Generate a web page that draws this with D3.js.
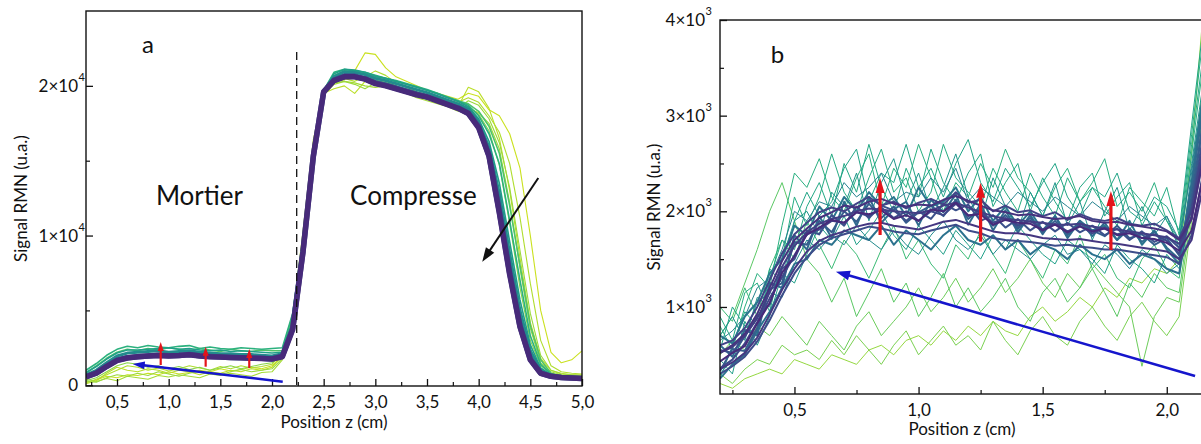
<!DOCTYPE html>
<html><head><meta charset="utf-8">
<script src="https://cdn.jsdelivr.net/npm/d3@7"></script>
<style>
body{margin:0;background:#fff;}
svg{display:block;font-family:Lato,"Open Sans",sans-serif;}
</style></head><body>
<svg id="chart" width="1201" height="444"></svg>
<script>
// ---------- Panel a data (position z in cm, NMR signal) ----------
const zA = [0.2,0.3,0.4,0.5,0.6,0.7,0.8,0.9,1.0,1.1,1.2,1.3,1.4,1.5,1.6,1.7,1.8,1.9,2.0,2.1,2.2,2.3,2.4,2.5,2.6,2.7,2.8,2.9,3.0,3.1,3.2,3.3,3.4,3.5,3.6,3.7,3.8,3.9,4.0,4.1,4.2,4.3,4.4,4.5,4.6,4.7,4.8,4.9,5.0];
const aTimes = [0,0.03,0.05,0.07,0.09,0.12,0.25,0.35,0.45,0.55,0.7,0.85,1.0];
const aLime1 = [200,350,600,500,700,650,800,700,900,750,850,1000,900,1100,950,1050,1200,1100,1300,1900,4200,9800,16000,19700,20300,20400,21000,22200,22100,21200,20600,20300,20000,19700,19500,19300,19100,19500,19300,18400,18000,16800,14500,10000,5000,2200,1500,1700,2300];
const aLime2 = [100,300,800,1200,1000,900,1100,1000,800,1000,900,700,900,800,1000,900,1100,1000,1200,2000,4500,10300,16400,19500,19800,20000,19500,20300,20500,20300,20000,19600,19300,19100,18900,18700,18600,19900,19600,18500,16500,13000,8500,4200,1800,1000,800,700,700];
const aLime5 = [150,400,700,1000,1300,1200,1000,1150,950,1100,1300,1150,1000,1250,1100,1300,1150,1250,1400,2200,4400,10000,16100,19500,20200,20500,20300,20600,21000,20700,20200,19900,19600,19400,19200,19000,18900,19200,18900,18000,16900,14800,11200,6800,3000,1300,900,800,750];
const aLime3 = [400,250,450,300,600,500,400,650,550,700,600,500,750,650,800,700,600,850,900,1700,4000,9500,15800,19400,20100,20300,20200,20000,19900,20000,19700,19500,19200,19000,18800,18600,18300,18500,18200,17500,15800,12200,7800,3800,1500,900,700,650,600];
const aLime6 = [250,200,500,700,600,800,650,900,750,600,800,950,800,700,900,1050,900,1000,1100,1800,4100,9700,15900,19500,20200,20300,20100,19800,20200,20400,19900,19600,19300,19100,18900,18700,18500,19000,18700,17800,16200,13200,9000,4800,2000,1000,750,700,650];
const aLime4 = [300,500,900,1300,1500,1400,1200,1300,1100,1250,1050,1200,1000,1150,1300,1100,1250,1400,1500,2100,4600,9900,15900,19400,20300,20500,20700,20500,20400,20200,20000,19700,19500,19300,19100,18900,18700,18600,18100,17000,14700,10800,6500,3000,1300,800,650,600,600];
const aGreen1 = [800,1300,1800,2200,2400,2300,2450,2350,2500,2400,2300,2450,2350,2250,2400,2300,2250,2350,2300,2300,4700,9800,15700,19600,20700,21000,20900,20800,20600,20500,20300,20100,19900,19700,19500,19200,19000,18800,18300,17300,15500,12000,8000,4000,1700,800,600,550,500];
const aGreen2 = [1000,1450,2000,2400,2600,2500,2650,2550,2500,2600,2650,2450,2550,2450,2400,2500,2450,2400,2450,2500,4800,9600,15500,19700,20900,21100,21000,20900,20700,20500,20350,20150,19950,19750,19500,19250,19000,18700,18000,16800,14800,11000,7000,3300,1400,750,550,500,500];
const aTeal1 = [850,1250,1750,2150,2350,2350,2400,2450,2500,2400,2450,2350,2300,2350,2250,2300,2250,2200,2150,2200,4300,9300,15400,19700,20800,21100,21050,20900,20650,20500,20300,20100,19900,19700,19450,19200,18950,18600,17800,16300,13500,9600,5700,2700,1150,700,550,500,480];
const aTeal2 = [700,1000,1500,1950,2150,2200,2250,2300,2200,2250,2300,2200,2150,2100,2100,2050,2050,2000,1950,2100,4000,9100,15300,19600,20600,20950,20900,20750,20500,20350,20150,19950,19750,19550,19300,19050,18800,18450,17600,15900,12800,8800,5000,2300,1000,650,520,480,460];
const aBlue1 = [650,900,1350,1750,1900,1950,2000,2050,2000,2050,2100,2000,1950,1900,1900,1850,1850,1800,1780,2000,3900,9000,15300,19600,20450,20750,20750,20550,20300,20150,19950,19750,19550,19350,19100,18850,18600,18250,17400,15600,12100,8000,4300,1900,870,620,520,480,460];
const aPurple1 = [580,820,1280,1680,1840,1910,1960,2000,1970,1990,2050,1970,1920,1880,1860,1840,1820,1800,1760,1950,3800,8950,15300,19600,20380,20620,20620,20470,20180,20030,19830,19630,19430,19270,19020,18770,18520,18170,17250,15350,11600,7500,3950,1720,810,600,520,480,450];
const aPurple2 = [550,800,1250,1650,1820,1900,1960,1990,1960,1980,2040,1960,1900,1880,1850,1830,1810,1790,1750,1900,3700,8900,15300,19600,20350,20600,20600,20450,20150,20000,19800,19600,19400,19250,19000,18750,18500,18150,17200,15300,11500,7400,3900,1700,800,600,520,480,450];
const aSeries = [aLime1,aLime2,aLime5,aLime3,aLime6,aLime4,aGreen1,aGreen2,aTeal1,aTeal2,aBlue1,aPurple1,aPurple2];

// ---------- Panel b data (zoom on the mortar) ----------
const zB = [0.20,0.25,0.30,0.35,0.40,0.45,0.50,0.55,0.60,0.65,0.70,0.75,0.80,0.85,0.90,0.95,1.00,1.05,1.10,1.15,1.20,1.25,1.30,1.35,1.40,1.45,1.50,1.55,1.60,1.65,1.70,1.75,1.80,1.85,1.90,1.95,2.00,2.05,2.10,2.15,2.20];
const bTimes = [0.10,0.15,0.18,0.22,0.30,0.36,0.38,0.40,0.42,0.45,0.50,0.55,0.60,0.66,0.68,0.72,0.78,0.84,0.86,0.88,0.90,0.92,0.95,0.97,1.0];
const bG5 = [200,150,250,300,350,300,450,400,350,500,450,400,550,600,500,650,700,600,750,650,800,700,850,750,700,900,1000,850,950,1100,1000,1200,1100,1300,1250,1400,1350,1500,2600,4200,5500];
const bG3 = [300,200,350,450,400,600,500,550,450,650,500,700,550,400,600,750,500,650,800,600,700,550,850,650,500,750,900,700,600,850,1000,800,650,900,1050,850,700,900,1900,3200,4600];
const bG4 = [500,650,550,800,700,900,750,600,850,700,550,800,950,700,850,1000,1200,950,1100,1300,1050,1200,1400,1150,1300,1500,1250,1100,1350,1200,1450,1300,1150,1000,380,900,1100,1050,2000,3500,5000];
const bG2 = [700,900,1250,1600,2000,2300,1900,1500,1350,1050,1300,900,1150,1400,1050,1250,900,1100,1350,1000,1200,950,1100,1300,1000,850,1150,1300,1050,1200,1400,1150,900,1250,1100,1350,1200,1150,2100,3400,4800];
const bG1 = [1000,850,1200,900,1400,1700,1500,1900,1650,1400,1700,1550,1300,1600,1850,1500,1700,1450,1300,1650,1500,1800,1550,1350,1700,1500,1300,1600,1450,1750,1400,1550,1300,1200,1500,1650,1400,1300,2200,3300,4400];
const bT6 = [800,550,1000,1350,1200,1850,2400,2250,2550,2150,2000,2350,2600,2050,2450,2250,2700,2350,2000,2300,2150,2500,2250,2650,2350,2200,1950,2250,2450,2100,2300,2550,2050,2200,2000,2300,1900,1650,2600,3600,4600];
const bT3 = [900,650,1150,1250,950,1500,2150,1850,2150,2600,2200,2000,2350,2650,2200,2350,2000,2200,2700,2350,2200,2050,2450,2200,2000,2400,2150,1950,2350,2100,2250,2050,1850,2250,2100,1950,2250,1750,2800,3900,4900];
const bT2 = [250,600,950,800,1300,1700,1600,2050,2300,1950,2500,2200,2700,2250,2000,2450,2150,2650,2300,2100,2400,2600,2050,2300,2500,2000,2350,2100,1900,2250,2400,1950,2150,2300,1850,2100,1900,1700,2700,3700,4700];
const bT4 = [550,1000,800,700,1400,1250,1900,2200,1950,2100,2450,2650,2100,2400,2300,2700,2250,2450,2150,2500,2750,2300,2100,2450,2250,2050,2300,2500,2150,1950,2250,2150,2400,2000,1900,2150,2050,1800,2900,4000,5000];
const bT7 = [450,300,850,600,900,1350,1250,1550,1850,1700,1950,1650,1800,2000,1750,1600,1850,1700,1550,1800,1650,1500,1750,1600,1850,1700,1550,1450,1700,1600,1500,1350,1650,1500,1400,1250,1550,1400,2300,3200,4200];
const bT1 = [700,900,650,1100,1000,1500,1900,2000,1750,2200,2050,2400,1900,2300,2550,2100,2400,2000,2250,2600,2150,1900,2350,2050,1800,2200,1950,2300,1850,2100,1700,2000,2250,1800,2050,1750,1950,1600,2500,3400,4400];
const bT5 = [300,450,700,1050,1150,1100,1450,1700,1600,1750,1650,1850,1700,1600,1800,1650,1550,1750,1900,1700,1600,1750,1550,1700,1600,1500,1650,1750,1550,1600,1450,1650,1550,1400,1600,1500,1350,1450,2400,3300,4300];
const bT8 = [650,750,900,1200,1300,1600,2000,1900,2100,2050,2300,2150,2250,2400,2100,2200,2150,2350,2200,2450,2100,2250,2150,2050,2200,2100,2000,2150,2050,1950,2100,2000,1900,2050,1950,1850,1950,1700,2450,3300,4300];
const bB1 = [700,620,900,1050,1350,1500,1850,1750,2050,1900,2150,2000,2200,2050,2150,1950,2250,2050,2100,2250,2000,2150,1900,2050,1850,2000,1800,1950,1750,1900,1800,1850,1700,1900,1650,1800,1600,1450,2300,3300,4300];
const bB2 = [250,400,500,750,950,1200,1450,1500,1700,1650,1800,1750,1700,1850,1650,1800,1700,1600,1750,1850,1700,1650,1750,1600,1700,1550,1650,1600,1500,1650,1550,1500,1600,1450,1550,1500,1400,1350,2100,3000,4000];
const bP8 = [600,480,760,700,1250,1200,1750,1600,1950,1720,2100,1850,2150,1880,2020,2100,1850,2120,1990,2180,1860,2080,1800,2010,1780,1960,1760,1950,1720,1900,1740,1880,1700,1820,1680,1790,1620,1500,2250,3150,4200];
const bP7 = [330,560,540,780,1180,1250,1680,1650,1900,1780,2000,1890,2080,1930,2050,1880,1990,2060,1950,2120,1920,2030,1850,1960,1820,1930,1780,1900,1760,1870,1800,1740,1850,1720,1760,1650,1720,1540,2150,3000,4000];
const bP6 = [550,520,690,900,1030,1400,1500,1800,1760,1960,1850,2050,1930,2060,2010,1900,2000,1920,2080,2010,2070,1900,1960,1830,1920,1800,1890,1790,1880,1780,1850,1750,1820,1700,1790,1680,1740,1620,2050,2850,3800];
const bP10 = [300,380,480,640,860,1120,1350,1520,1650,1720,1760,1800,1840,1820,1790,1770,1760,1800,1830,1860,1800,1770,1720,1700,1690,1680,1660,1640,1650,1630,1620,1600,1600,1580,1560,1540,1520,1450,1750,2450,3300];
const bP5 = [360,450,620,840,1090,1310,1540,1760,1810,1900,1880,1990,1950,2040,1930,2000,1900,2000,1960,2080,1950,1990,1880,1930,1850,1900,1810,1870,1790,1850,1770,1830,1760,1790,1720,1760,1690,1560,1950,2700,3600];
const bP9 = [600,650,780,1000,1280,1560,1760,1880,1990,2040,2000,2080,2150,2060,2100,2030,2090,2130,2070,2200,2090,2120,2000,2060,1990,2010,1950,1990,1910,1970,1920,1900,1930,1870,1850,1870,1800,1720,2000,2750,3700];
const bP4 = [520,580,700,880,1150,1420,1640,1780,1870,1920,1950,2000,2030,2020,2000,1990,1980,2010,2060,2090,2040,1990,1950,1920,1910,1890,1880,1860,1860,1870,1840,1820,1810,1790,1770,1750,1730,1660,1920,2600,3500];
const bP3 = [350,420,520,680,920,1180,1400,1580,1690,1750,1790,1840,1870,1880,1850,1830,1810,1850,1890,1910,1870,1830,1790,1770,1770,1750,1720,1710,1700,1710,1690,1670,1660,1640,1620,1600,1580,1500,1700,2300,3100];
const bP2 = [520,600,720,930,1200,1480,1700,1820,1930,1990,2060,2040,2100,2130,2080,2050,2070,2060,2120,2160,2110,2060,2010,1990,1960,1970,1940,1920,1930,1950,1900,1880,1890,1860,1840,1820,1790,1700,1920,2600,3500];
const bP1 = [430,520,590,830,1040,1360,1530,1760,1830,1910,1880,1990,1970,2010,1920,1960,1900,2020,2000,2090,1960,1970,1860,1910,1880,1870,1800,1860,1780,1840,1790,1820,1750,1770,1720,1710,1670,1590,1800,2400,3300];
const bSeries = [bG5,bG3,bG4,bG2,bG1,bT6,bT3,bT2,bT4,bT7,bT1,bT5,bT8,bB1,bB2,bP8,bP7,bP6,bP10,bP5,bP9,bP4,bP3,bP2,bP1];

// ---------- ticks ----------
const xTicksA = [0.5,1.0,1.5,2.0,2.5,3.0,3.5,4.0,4.5,5.0];
const xMinorA = [0.25,0.75,1.25,1.75,2.25,2.75,3.25,3.75,4.25,4.75];
const yTicksA = [0,10000,20000];
const yTickMantA = ["0","1×10","2×10"];
const yTickExpA = ["","4","4"];
const yMinorA = [5000,15000];
const xTicksB = [0.5,1.0,1.5,2.0];
const xMinorB = [0.25,0.75,1.25,1.75];
const yTicksB = [1000,2000,3000,4000];
const yTickMantB = ["1×10","2×10","3×10","4×10"];
const yTickExpB = ["3","3","3","3"];
const yMinorB = [1500,2500,3500];

// annotations (data coordinates)
const dashZA = 2.239, dashTopA = 22260;
const redArrowsA = [[0.923,1353,2889],[1.358,1239,2575],[1.780,1152,2422]];
const blueArrowA = [2.104,237,0.652,1420];
const blackArrowA = [4.577,13844,4.035,8253];
const redArrowsB = [[0.845,1752,2348],[1.25,1682,2299],[1.775,1595,2212]];
const blueArrowB = [2.114,278,0.667,1369];

const svg = d3.select("#chart");
const color = t => d3.interpolateViridis(0.92 - 0.8*t);
const fmt = d => d3.format(".1f")(d).replace(".", ",");
const FS = 17;

function arrow(g, x1,y1,x2,y2, col, w, hl, hw){
  const dx=x2-x1, dy=y2-y1, L=Math.hypot(dx,dy), ux=dx/L, uy=dy/L;
  const bx=x2-ux*hl, by=y2-uy*hl;
  g.append("line").attr("x1",x1).attr("y1",y1).attr("x2",bx+ux*1).attr("y2",by+uy*1)
    .attr("stroke",col).attr("stroke-width",w);
  g.append("path").attr("d",`M${x2},${y2}L${bx-uy*hw/2},${by+ux*hw/2}L${bx+uy*hw/2},${by-ux*hw/2}Z`).attr("fill",col);
}

function panel(cfg){
  const {x,y,L,R,T,B,id} = cfg;
  const g = svg.append("g");
  svg.append("clipPath").attr("id",id).append("rect").attr("x",L).attr("y",T).attr("width",R-L).attr("height",B-T);
  const lines = g.append("g").attr("clip-path",`url(#${id})`);
  cfg.series.forEach((s,k)=>{
    const t = cfg.times[k];
    lines.append("path").datum(s)
      .attr("d", d3.line().x((d,i)=>x(cfg.z[i])).y(d=>y(d)))
      .attr("fill","none").attr("stroke",color(t))
      .attr("stroke-width",cfg.width(t)).attr("stroke-linejoin","round");
  });
  g.append("rect").attr("x",L).attr("y",T).attr("width",R-L).attr("height",B-T)
    .attr("fill","none").attr("stroke","#111").attr("stroke-width",1.4);
  const xa = g.append("g").attr("transform",`translate(0,${B})`)
    .call(d3.axisBottom(x).tickValues(cfg.xTicks).tickSize(-7).tickPadding(10).tickFormat(fmt));
  xa.select(".domain").remove();
  xa.selectAll("line").attr("stroke","#111").attr("stroke-width",1.3);
  xa.selectAll("text").attr("font-size",FS).attr("font-family","Lato").attr("fill","#111");
  const xm = g.append("g").attr("transform",`translate(0,${B})`)
    .call(d3.axisBottom(x).tickValues(cfg.xMinor).tickSize(-4).tickFormat(""));
  xm.select(".domain").remove();
  xm.selectAll("line").attr("stroke","#111").attr("stroke-width",1.2);
  const ya = g.append("g").attr("transform",`translate(${L},0)`)
    .call(d3.axisLeft(y).tickValues(cfg.yTicks).tickSize(-7).tickFormat(""));
  ya.select(".domain").remove();
  ya.selectAll("line").attr("stroke","#111").attr("stroke-width",1.3);
  const ym = g.append("g").attr("transform",`translate(${L},0)`)
    .call(d3.axisLeft(y).tickValues(cfg.yMinor).tickSize(-4).tickFormat(""));
  ym.select(".domain").remove();
  ym.selectAll("line").attr("stroke","#111").attr("stroke-width",1.2);
  cfg.yTicks.forEach((v,i)=>{
    g.append("text").attr("x",cfg.labEnd).attr("y",y(v)).attr("dy","0.35em")
      .attr("text-anchor","end").attr("font-size",FS).attr("fill","#111").text(cfg.mant[i]);
    if(cfg.exp[i]) g.append("text").attr("x",cfg.labEnd+0.5).attr("y",y(v)-6).attr("dy","0.1em")
      .attr("font-size",11).attr("fill","#111").text(cfg.exp[i]);
  });
  g.append("text").attr("x",cfg.xTitleX).attr("y",cfg.xTitleY)
    .attr("text-anchor","middle").attr("font-size",FS).attr("fill","#111").text("Position z (cm)");
  g.append("text").attr("transform",`translate(${cfg.yTitleX},${(T+B)/2}) rotate(-90)`)
    .attr("text-anchor","middle").attr("font-size",FS).attr("fill","#111").text("Signal RMN (u.a.)");
  return g;
}

// ---------- Panel a ----------
const xA = d3.scaleLinear().domain([0.2,5.0]).range([86,582]);
const yA = d3.scaleLinear().domain([-50,25000]).range([386,11]);
const gA = panel({id:"clipA",x:xA,y:yA,L:86,R:582,T:11,B:386,z:zA,series:aSeries,times:aTimes,
  width:t=> t<0.2?1.1 : t<0.5?1.6 : t<0.8?3 : 5.5,
  xTicks:xTicksA,xMinor:xMinorA,yTicks:yTicksA,yMinor:yMinorA,mant:yTickMantA,exp:yTickExpA,
  labEnd:78,xTitleX:334,xTitleY:428,yTitleX:27});
gA.append("line").attr("x1",xA(dashZA)).attr("x2",xA(dashZA)).attr("y1",yA(dashTopA)).attr("y2",386)
  .attr("stroke","#111").attr("stroke-width",1.3).attr("stroke-dasharray","8,5");
gA.append("text").attr("x",xA(0.742)).attr("y",yA(22194)).attr("font-size",24).attr("fill","#111").text("a");
gA.append("text").attr("x",xA(1.298)).attr("y",yA(12041)).attr("text-anchor","middle").attr("font-size",26).attr("fill","#111").text("Mortier");
gA.append("text").attr("x",xA(3.369)).attr("y",yA(12041)).attr("text-anchor","middle").attr("font-size",26).attr("fill","#111").text("Compresse");
redArrowsA.forEach(a=>arrow(gA,xA(a[0]),yA(a[1]),xA(a[0]),yA(a[2]),"#e3141b",2.2,9,6));
arrow(gA,xA(blueArrowA[0]),yA(blueArrowA[1]),xA(blueArrowA[2]),yA(blueArrowA[3]),"#1515cc",2.5,12,8);
arrow(gA,xA(blackArrowA[0]),yA(blackArrowA[1]),xA(blackArrowA[2]),yA(blackArrowA[3]),"#111",2,14,10);

// ---------- Panel b ----------
const xB = d3.scaleLinear().domain([0.2,2.146]).range([720,1203]);
const yB = d3.scaleLinear().domain([90,4000]).range([394,20]);
const gB = panel({id:"clipB",x:xB,y:yB,L:720,R:1203,T:20,B:394,z:zB,series:bSeries,times:bTimes,
  width:t=> t<0.62?1 : 2,
  xTicks:xTicksB,xMinor:xMinorB,yTicks:yTicksB,yMinor:yMinorB,mant:yTickMantB,exp:yTickExpB,
  labEnd:705,xTitleX:962,xTitleY:435,yTitleX:660});
gB.append("text").attr("x",xB(0.404)).attr("y",yB(3551)).attr("font-size",24).attr("fill","#111").text("b");
redArrowsB.forEach(a=>arrow(gB,xB(a[0]),yB(a[1]),xB(a[0]),yB(a[2]),"#e3141b",3.2,15,9));
arrow(gB,xB(blueArrowB[0]),yB(blueArrowB[1]),xB(blueArrowB[2]),yB(blueArrowB[3]),"#1515cc",2.6,14,10);
</script>
</body></html>
